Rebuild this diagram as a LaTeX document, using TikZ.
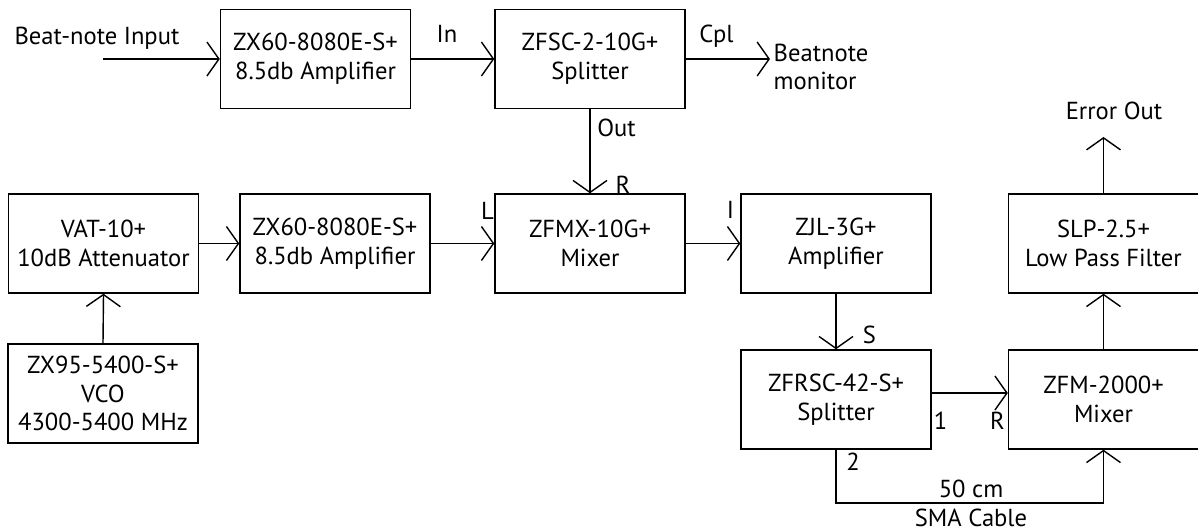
\documentclass[tikz,border=0pt]{standalone}
\usepackage{fontspec}
\setmainfont{PT Sans}
\usetikzlibrary{arrows.meta}

\begin{document}
\begin{tikzpicture}[thick, font=\fontsize{14}{16.4}\selectfont]
        \useasboundingbox (0,0) rectangle (23.96,10.62);

        \tikzset{blk/.style={draw, rectangle, align=center, inner sep=0pt,
                        minimum width=3.8cm, minimum height=1.98cm},
                 sig/.style={-{Straight Barb[length=2.4mm,width=6.8mm]}},
                 lbl/.style={anchor=base, inner sep=0pt}}

        % blocks
        \node [blk] (amp1) at (6.31,9.44) {ZX60-8080E-S+\\8.5db Amplifier};
        \node [blk] (split1) at (11.8,9.44) {ZFSC-2-10G+\\Splitter};
        \node [blk] (vat) at (2.07,5.75) {VAT-10+\\10dB Attenuator};
        \node [blk] (amp2) at (6.7,5.75) {ZX60-8080E-S+\\8.5db Amplifier};
        \node [blk] (mix1) at (11.8,5.75) {ZFMX-10G+\\Mixer};
        \node [blk] (zjl) at (16.72,5.75) {ZJL-3G+\\Amplifier};
        \node [blk] (slp) at (22.07,5.75) {SLP-2.5+\\Low Pass Filter};
        \node [blk] (vco) at (2.06,2.75) {ZX95-5400-S+\\VCO\\4300-5400 MHz};
        \node [blk] (split2) at (16.72,2.63) {ZFRSC-42-S+\\Splitter};
        \node [blk] (mix2) at (22.07,2.63) {ZFM-2000+\\Mixer};

        \coordinate (bin) at (2.06,9.44);
        \coordinate (bmon) at (15.4,9.44);
        \coordinate (errout) at (22.07,7.88);
        \coordinate (cab) at (19.42,0.56);

        % connectors
        \draw [sig] (bin) -- (amp1.west);
        \draw [sig] (amp1.east) -- (split1.west);
        \draw [sig] (split1.east) -- (bmon);
        \draw [sig] (split1.south) -- (mix1.north);
        \draw [sig] (vat.east) -- (amp2.west);
        \draw [sig] (amp2.east) -- (mix1.west);
        \draw [sig] (mix1.east) -- (zjl.west);
        \draw [sig] (vco.north) -- (vat.south);
        \draw [sig] (zjl.south) -- (split2.north);
        \draw [sig] ([yshift=1.3mm]split2.east) -- ([yshift=1.3mm]mix2.west);
        \draw [sig] (split2.south) |- (cab) -| (mix2.south);
        \draw [sig] (mix2.north) -- (slp.south);
        \draw [sig] (slp.north) -- (errout);

        % port labels
        \node [lbl] (tin) at (1.94,9.72) {Beat-note Input};
        \node [lbl] (tIn) at (8.94,9.76) {In};
        \node [lbl] (tcpl) at (14.33,9.76) {Cpl};
        \node [anchor=west, align=left, inner sep=0pt] (tmon) at (15.46,9.28) {Beatnote\\monitor};
        \node [lbl] (tout) at (12.33,7.88) {Out};
        \node [lbl] (tr1) at (12.46,6.74) {R};
        \node [lbl] (tl) at (9.75,6.22) {L};
        \node [lbl] (ti) at (14.61,6.24) {I};
        \node [lbl] (ts) at (17.39,3.74) {S};
        \node [lbl] (tone) at (18.81,2.04) {1};
        \node [lbl] (tr2) at (19.95,2.04) {R};
        \node [lbl] (ttwo) at (17.06,1.22) {2};
        \node [lbl] (tcm) at (19.42,0.68) {50 cm};
        \node [lbl] (tsma) at (19.42,0.1) {SMA Cable};
        \node [lbl] (terr) at (22.28,8.22) {Error Out};
\end{tikzpicture}
\end{document}
